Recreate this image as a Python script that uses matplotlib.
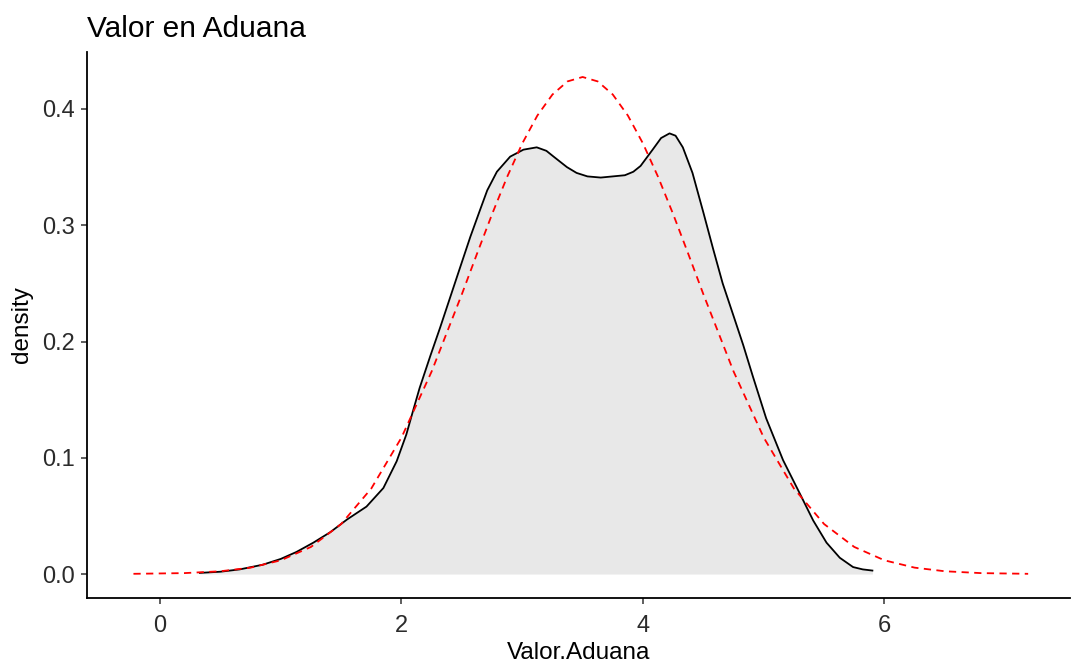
import numpy as np
import matplotlib.pyplot as plt

plt.rcParams['font.family'] = ['Liberation Sans', 'DejaVu Sans']

dens_x = [0.33, 0.50, 0.66, 0.85, 1.00, 1.13, 1.27, 1.41, 1.55, 1.71, 1.85, 1.96,
          2.04, 2.10, 2.15, 2.24, 2.32, 2.40, 2.48, 2.57, 2.65, 2.71, 2.79, 2.90,
          3.01, 3.12, 3.20, 3.26, 3.37, 3.45, 3.54, 3.65, 3.75, 3.85, 3.92, 3.98,
          4.08, 4.15, 4.22, 4.27, 4.33, 4.41, 4.50, 4.58, 4.66, 4.75, 4.83, 4.91,
          5.02, 5.16, 5.30, 5.41, 5.52, 5.63, 5.74, 5.82, 5.90]
dens_y = [0.001, 0.002, 0.004, 0.008, 0.013, 0.019, 0.027, 0.036, 0.047, 0.058, 0.074, 0.097,
          0.120, 0.142, 0.160, 0.188, 0.212, 0.237, 0.262, 0.290, 0.313, 0.330, 0.346, 0.359,
          0.365, 0.367, 0.364, 0.359, 0.350, 0.345, 0.342, 0.341, 0.342, 0.343, 0.346, 0.351,
          0.365, 0.375, 0.379, 0.377, 0.367, 0.345, 0.311, 0.280, 0.250, 0.222, 0.197, 0.170,
          0.134, 0.098, 0.069, 0.046, 0.027, 0.014, 0.006, 0.004, 0.003]

# curva normal de referencia
norm_x = [-0.22, 0.2, 0.5, 0.75, 1.0, 1.25, 1.5, 1.75, 2.0, 2.25, 2.5, 2.625, 2.75, 2.875,
          3.0, 3.125, 3.25, 3.375, 3.5, 3.625, 3.75, 3.875, 4.0, 4.125, 4.25, 4.375, 4.5,
          4.75, 5.0, 5.25, 5.5, 5.75, 6.0, 6.25, 6.5, 6.8, 7.19]
norm_y = [0.0002, 0.0008, 0.0024, 0.0055, 0.0118, 0.0233, 0.0430, 0.0736, 0.1174, 0.1743,
          0.2407, 0.2754, 0.3095, 0.3416, 0.3703, 0.3943, 0.4124, 0.4237, 0.4275, 0.4237,
          0.4124, 0.3943, 0.3703, 0.3416, 0.3095, 0.2754, 0.2407, 0.1743, 0.1174, 0.0736,
          0.0430, 0.0233, 0.0118, 0.0055, 0.0024, 0.0008, 0.0002]

fig = plt.figure(figsize=(10.71, 6.64), dpi=100)
ax = fig.add_axes([0.0812, 0.0994, 0.9178, 0.8223])

ax.fill_between(dens_x, dens_y, 0, color='#e8e8e8', lw=0)
ax.plot(dens_x, dens_y, color='black', lw=1.3, solid_joinstyle='round')
ax.plot(norm_x, norm_y, color='red', lw=1.3, ls=(0, (4, 3)))

ax.set_xlim(-0.605, 7.536)
ax.set_ylim(-0.0206, 0.449)
ax.set_xticks([0, 2, 4, 6])
ax.set_yticks([0.0, 0.1, 0.2, 0.3, 0.4])
ax.set_yticklabels(['0.0', '0.1', '0.2', '0.3', '0.4'])

for s in ['top', 'right']:
    ax.spines[s].set_visible(False)
for s in ['left', 'bottom']:
    ax.spines[s].set_linewidth(1.3)
    ax.spines[s].set_color('black')
ax.tick_params(direction='out', length=4, width=1.1, color='#333333',
               labelsize=17, labelcolor='#2b2b2b')
ax.tick_params(axis='x', pad=8)
ax.tick_params(axis='y', pad=5)

ax.set_xlabel('Valor.Aduana', fontsize=17.5, color='black', labelpad=4)
ax.set_ylabel('density', fontsize=17.5, color='black', labelpad=6)
ax.set_title('Valor en Aduana', loc='left', fontsize=21.5, color='black', pad=11)

fig.savefig('out.png', dpi=100)
